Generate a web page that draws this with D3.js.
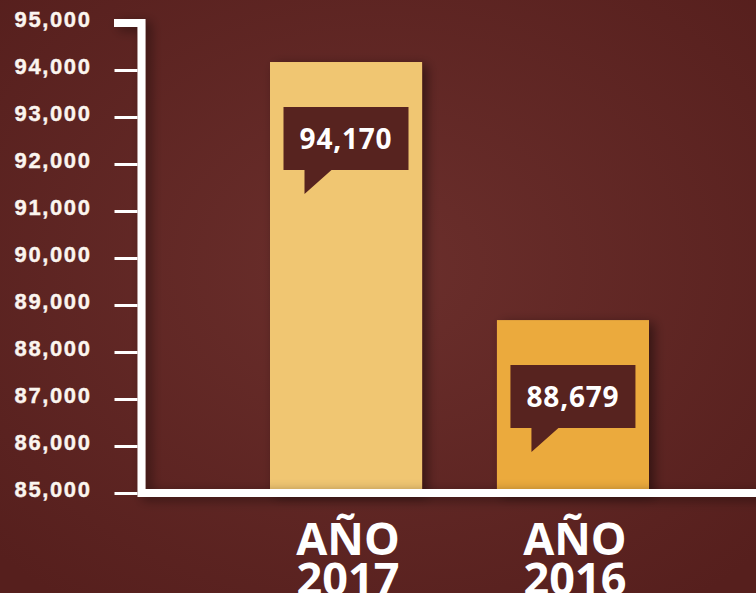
<!DOCTYPE html>
<html>
<head>
<meta charset="utf-8">
<script src="https://cdn.jsdelivr.net/npm/d3@7"></script>
<style>
    html, body { margin: 0; padding: 0; background: #5a2422; }
    svg { display: block; font-family: "Open Sans", "DejaVu Sans", sans-serif; }
</style>
</head>
<body>
<svg id="chart" width="756" height="593"></svg>
<script>
const years = ['2017', '2016'];
const values = [94170, 88679];
const yTicks = [85000, 86000, 87000, 88000, 89000, 90000, 91000, 92000, 93000, 94000, 95000];

const width = 756, height = 593;
const axisX = 141.5;

(function init() {
    drawChart();
})();

function drawChart() {
    const svg = d3.select('#chart');
    const defs = svg.append('defs');

    const bg = defs.append('radialGradient').attr('id', 'bg')
        .attr('cx', '50%').attr('cy', '45%').attr('r', '70%');
    bg.append('stop').attr('offset', '0%').attr('stop-color', '#6b2f2c');
    bg.append('stop').attr('offset', '100%').attr('stop-color', '#561f1d');

    const shadow = defs.append('filter').attr('id', 'shadow')
        .attr('x', '-20%').attr('y', '-20%').attr('width', '150%').attr('height', '150%');
    shadow.append('feDropShadow').attr('dx', 5).attr('dy', 3).attr('stdDeviation', 6)
        .attr('flood-color', '#000').attr('flood-opacity', 0.45);

    svg.append('rect').attr('width', width).attr('height', height).attr('fill', 'url(#bg)');

    const y = d3.scaleLinear().domain([85000, 95000]).range([493, 23]);
    const x = d3.scaleBand().domain(years).range([270, 649]).paddingInner(0.33).paddingOuter(0);
    const color = d3.scaleOrdinal().domain(years).range(['#f0c672', '#ebaa3e']);
    const fmt = d3.format(',');

    // bars
    svg.append('g').selectAll('rect').data(years).join('rect')
        .attr('x', d => x(d))
        .attr('y', (d, i) => y(values[i]))
        .attr('width', x.bandwidth())
        .attr('height', (d, i) => y(85000) - y(values[i]))
        .attr('fill', d => color(d))
        .attr('filter', 'url(#shadow)');

    // axis frame
    svg.append('path')
        .attr('d', `M114,${y(95000)}H${axisX}V${y(85000)}H${width + 10}`)
        .attr('fill', 'none').attr('stroke', '#fff').attr('stroke-width', 8)
        .attr('stroke-linejoin', 'miter')
        .attr('filter', 'url(#shadow)');

    const yAxis = svg.append('g').attr('transform', `translate(${axisX - 4},0)`)
        .call(d3.axisLeft(y).tickValues(yTicks).tickFormat(fmt).tickSize(23).tickPadding(23));
    yAxis.select('.domain').remove();
    yAxis.selectAll('.tick line').attr('stroke', '#fff').attr('stroke-width', 3);
    yAxis.selectAll('.tick text')
        .attr('fill', '#fbf5ef')
        .attr('font-size', 22).attr('font-weight', 700)
        .attr('letter-spacing', 1.6)
        .attr('stroke', '#fbf5ef').attr('stroke-width', 0.4)
        .attr('dy', '0.15em');

    // callouts
    const callouts = svg.append('g').selectAll('g').data(years).join('g')
        .attr('transform', (d, i) => `translate(${x(d) + 13.5},${y(values[i]) + 45})`);
    callouts.append('path')
        .attr('d', 'M0,0H125V63H48L21,87V63H0Z')
        .attr('fill', '#57231f');
    callouts.append('text')
        .attr('x', 62.5).attr('y', 42)
        .attr('text-anchor', 'middle')
        .attr('fill', '#fff').attr('font-size', 28).attr('font-weight', 700)
        .attr('letter-spacing', 0.8)
        .text((d, i) => fmt(values[i]));

    // category labels
    const cx = d => x(d) + x.bandwidth() / 2 + 2;
    const labels = svg.append('g').selectAll('text').data(years).join('text')
        .attr('x', cx)
        .attr('y', 555)
        .attr('text-anchor', 'middle')
        .attr('fill', '#fff').attr('font-size', 45).attr('font-weight', 700);
    labels.append('tspan').attr('x', cx).text('AÑO');
    labels.append('tspan').attr('x', cx).attr('dy', 40).text(d => d);
}
</script>
</body>
</html>
